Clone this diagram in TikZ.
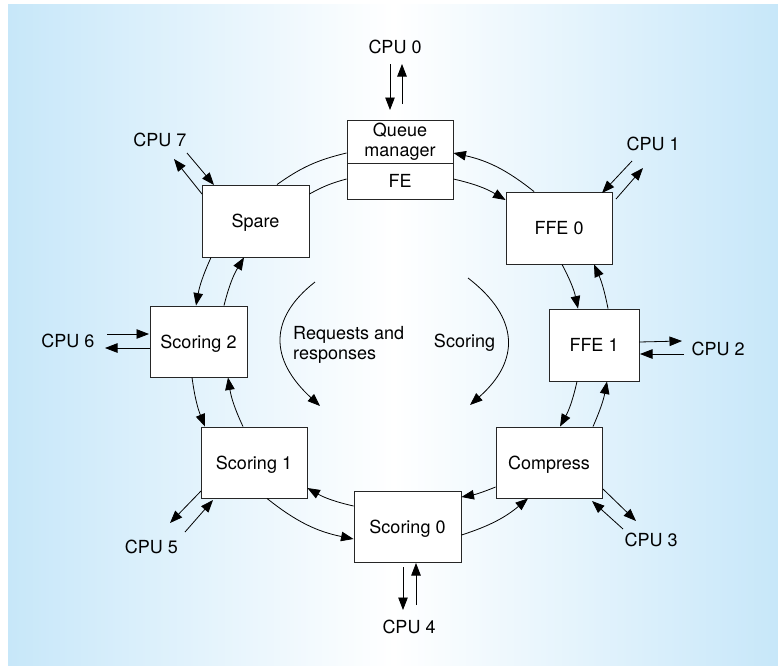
\documentclass[tikz,border=0pt]{standalone}
\usepackage{fontspec}
\setmainfont{TeX Gyre Heros}
\usetikzlibrary{arrows.meta}
\definecolor{bgblue}{RGB}{199,231,249}
\begin{document}
\begin{tikzpicture}[x=1pt,y=-1pt,
  box/.style={draw=black!85, line width=0.9pt, fill=white, inner sep=0pt, align=center,
    font=\fontsize{18}{19.5}\selectfont},
  sbox/.style={box, text depth=0pt},
  lbl/.style={font=\fontsize{18}{20}\selectfont, inner sep=0pt},
  tip/.style={-{Triangle[length=12.5pt,width=9.5pt]}},
  ln/.style={line width=0.8pt},
  arr/.style={ln, tip},
]
\useasboundingbox (0,0) rectangle (778,665);
\fill[white] (0,0) rectangle (778,665);
\shade[left color=bgblue, right color=white] (8,4) rectangle (393.5,665);
\shade[left color=white, right color=bgblue] (393,4) rectangle (778,665);

% boxes
\node[box, minimum width=106, minimum height=43] (qm) at (400,141.5) {Queue\\manager};
\node[sbox, minimum width=106, minimum height=36] (fe) at (400,181) {FE};
\node[sbox, minimum width=106, minimum height=72] (ffe0) at (559,228) {FFE 0};
\node[sbox, minimum width=90, minimum height=72] (ffe1) at (594,345) {FFE 1};
\node[sbox, minimum width=106, minimum height=71] (comp) at (549,462.5) {Compress};
\node[sbox, minimum width=107, minimum height=71] (s0) at (407.5,526.5) {Scoring 0};
\node[sbox, minimum width=106, minimum height=71] (s1) at (254,462.5) {Scoring 1};
\node[sbox, minimum width=97, minimum height=71] (s2) at (198.5,341.5) {Scoring 2};
\node[sbox, minimum width=107, minimum height=72] (spare) at (255.5,221) {Spare};

% ring: inner arcs (clockwise), outer arcs (counter-clockwise)
\draw[arr] ([yshift=2pt]fe.east) to[bend left=9] ([yshift=28pt]ffe0.west);
\draw[arr] ([xshift=-25pt]ffe0.north) to[bend right=13] ([yshift=-11.5pt]qm.east);
\draw[arr] ([xshift=3pt]ffe0.south) to[bend left=8] ([xshift=-16pt]ffe1.north);
\draw[arr] ([xshift=14pt]ffe1.north) to[bend right=6.5] ([xshift=35pt]ffe0.south);
\draw[arr] ([xshift=-17pt]ffe1.south) to[bend left=8] ([xshift=11pt]comp.north);
\draw[arr] ([xshift=44pt]comp.north) to[bend right=6.5] ([xshift=13pt]ffe1.south);
\draw[arr] ([yshift=-24.5pt]comp.west) to[bend left=6] ([yshift=29.5pt]s0.east);
\draw[arr] ([yshift=-8.5pt]s0.east) to[bend right=11] ([xshift=-21pt]comp.south);
\draw[arr] ([yshift=20.5pt]s0.west) to[bend left=8.5] ([yshift=-25.5pt]s1.east);
\draw[arr] ([xshift=13pt]s1.south) to[bend right=13.5] ([yshift=-12.5pt]s0.west);
\draw[arr] ([xshift=-11pt]s1.north) to[bend left=8] ([xshift=29.5pt]s2.south);
\draw[arr] ([xshift=-6.5pt]s2.south) to[bend right=7] ([xshift=-49pt]s1.north);
\draw[arr] ([xshift=25.5pt]s2.north) to[bend left=8.5] ([xshift=-11.5pt]spare.south);
\draw[arr] ([xshift=-44.5pt]spare.south) to[bend right=7] ([xshift=-2.5pt]s2.north);
\draw[ln] ([xshift=21.5pt]spare.north) to[bend left=11] ([yshift=-11.5pt]qm.west);
\draw[ln] ([yshift=27pt]spare.east) to[bend left=7] ([yshift=2pt]fe.west);

% CPU labels
\node[lbl] (cpu0) at (395,46.5) {CPU 0};
\node[lbl] (cpu1) at (653,143.5) {CPU 1};
\node[lbl] (cpu2) at (718,348.5) {CPU 2};
\node[lbl] (cpu3) at (651,540) {CPU 3};
\node[lbl] (cpu4) at (409,626.5) {CPU 4};
\node[lbl] (cpu5) at (151.5,546.5) {CPU 5};
\node[lbl] (cpu6) at (68,341) {CPU 6};
\node[lbl] (cpu7) at (160,140) {CPU 7};

% CPU arrow end points
\coordinate (c0a) at (390,64);  \coordinate (c0b) at (390,110);
\coordinate (c0c) at (402,104); \coordinate (c0d) at (402,64);
\coordinate (c1a) at (632,161); \coordinate (c1b) at (602,193);
\coordinate (c1c) at (616,199); \coordinate (c1d) at (643,168);
\coordinate (c2a) at (639,342); \coordinate (c2b) at (682,341);
\coordinate (c2c) at (684,354); \coordinate (c2d) at (640,354);
\coordinate (c3a) at (603,489); \coordinate (c3b) at (636,521);
\coordinate (c3c) at (623,529); \coordinate (c3d) at (592,501);
\coordinate (c4a) at (403,567); \coordinate (c4b) at (403,610);
\coordinate (c4c) at (416,605); \coordinate (c4d) at (416,563);
\coordinate (c5a) at (201,491); \coordinate (c5b) at (170,523);
\coordinate (c5c) at (185,532); \coordinate (c5d) at (213,500);
\coordinate (c6a) at (107,334); \coordinate (c6b) at (149,334);
\coordinate (c6c) at (150,348); \coordinate (c6d) at (105,348);
\coordinate (c7a) at (187,153); \coordinate (c7b) at (214,185);
\coordinate (c7c) at (202,194); \coordinate (c7d) at (174,159);

\foreach \i in {0,...,7} {
  \draw[arr] (c\i a) -- (c\i b);
  \draw[arr] (c\i c) -- (c\i d);
}

% centre flows
\node[lbl, align=left, anchor=north west, font=\fontsize{18}{20}\selectfont] (req) at (293,326.5) {Requests and\\responses};
\node[lbl, anchor=base] (sco) at (464.5,347) {Scoring};
\coordinate (r1) at (315,282); \coordinate (r2) at (320,406);
\coordinate (q1) at (468,278); \coordinate (q2) at (470,405);
\draw[arr] (r1) .. controls (269,318) and (269,359) .. (r2);
\draw[arr] (q1) .. controls (520,318) and (520,361) .. (q2);
\end{tikzpicture}
\end{document}
